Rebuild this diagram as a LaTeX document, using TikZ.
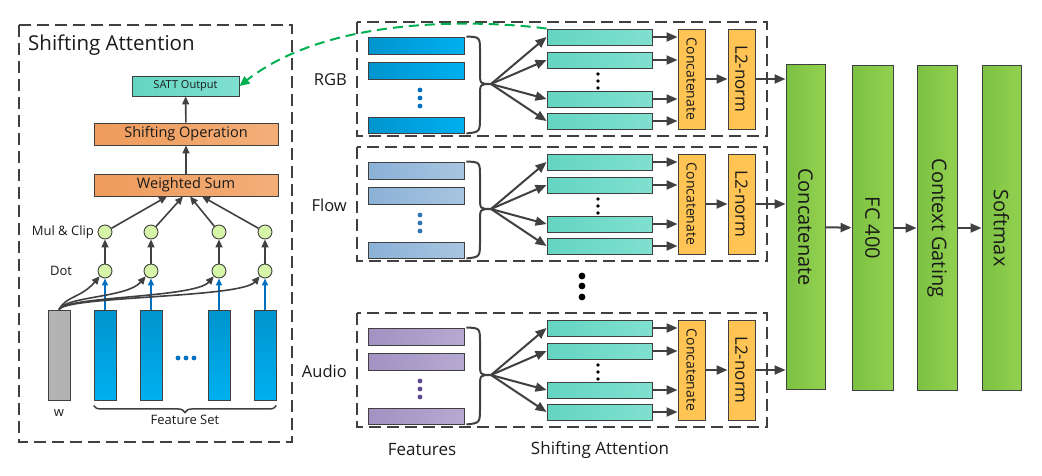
\documentclass[tikz,border=0pt]{standalone}
\usepackage{fontspec}
\setmainfont{Open Sans}
\usepackage{graphicx}
\usetikzlibrary{arrows.meta,decorations.pathreplacing}
\definecolor{edge}{HTML}{404040}
\definecolor{txt}{HTML}{1A1A1A}
\definecolor{rgbL}{HTML}{0094CE}
\definecolor{rgbR}{HTML}{00B0F0}
\definecolor{rgbD}{HTML}{0070C0}
\definecolor{flowL}{HTML}{8BB1D6}
\definecolor{flowR}{HTML}{A7C5E1}
\definecolor{flowD}{HTML}{2E75B6}
\definecolor{audL}{HTML}{A192C2}
\definecolor{audR}{HTML}{B6A9D1}
\definecolor{audD}{HTML}{5F4B8B}
\definecolor{attL}{HTML}{64D5C1}
\definecolor{attR}{HTML}{80E0D0}
\definecolor{opL}{HTML}{EE9B5B}
\definecolor{opR}{HTML}{F3AE78}
\definecolor{catC}{HTML}{FFC454}
\definecolor{gL}{HTML}{7CC142}
\definecolor{gR}{HTML}{93D150}
\definecolor{dotC}{HTML}{D5F5A8}
\definecolor{wC}{HTML}{B3B3B3}
\definecolor{link}{HTML}{00B050}

\begin{document}
\begin{tikzpicture}[x=1pt,y=-1pt,>={Triangle[length=11pt,width=9pt]}]
      \tikzstyle{every node}=[text=txt,inner sep=0pt]
      \tikzstyle{blk}=[rectangle,draw=edge,line width=0.9pt]
      \tikzstyle{circ}=[circle,draw=edge,line width=0.9pt,fill=dotC,minimum size=14pt]
      \tikzstyle{dashbox}=[draw=edge,line width=2.2pt,dash pattern=on 12pt off 6pt]
      \tikzstyle{arr}=[draw=edge,line width=2pt,->]
      \tikzstyle{small arr}=[draw=edge,line width=1.6pt,-{Triangle[length=8pt,width=7pt]}]
      \tikzstyle{blue arr}=[draw=rgbD,line width=1.5pt,-{Triangle[length=7pt,width=6pt]}]
      \tikzstyle{bigbox}=[blk,left color=gL,right color=gR,minimum width=40pt,minimum height=325pt,font=\fontsize{20}{24}\selectfont]
      \useasboundingbox (0,0) rectangle (1042,475);

      \draw[dashbox] (19,25) rectangle (292,442);
      \node[anchor=west,font=\fontsize{20.5}{24}\selectfont] (title) at (28,45) {Shifting Attention};
      \node[blk,left color=attL,right color=attR,minimum width=107pt,minimum height=20pt,font=\fontsize{11}{13}\selectfont] (satt) at (185.5,86) {SATT Output};
      \node[blk,left color=opL,right color=opR,minimum width=184pt,minimum height=22pt,font=\fontsize{14.5}{17}\selectfont] (shop) at (186,134) {Shifting Operation};
      \node[blk,left color=opL,right color=opR,minimum width=184pt,minimum height=22pt,font=\fontsize{14.5}{17}\selectfont] (ws) at (186,185) {Weighted Sum};
      \draw[small arr] (ws) -- (shop);
      \draw[small arr] (shop) -- (satt);
      \node[anchor=east,font=\fontsize{13}{15}\selectfont] (mullab) at (94,232) {Mul \& Clip};
      \node[font=\fontsize{13}{15}\selectfont] (dotlab) at (61,271) {Dot};
      \node[blk,fill=wC,minimum width=22pt,minimum height=90pt] (wvec) at (59,355) {};
      \node[font=\fontsize{13}{15}\selectfont] (wlab) at (59,413) {w};
      \foreach \i/\x/\o in {1/105/-19,2/151/-3,3/219/4,4/265/16}{
        \node[blk,top color=rgbL,bottom color=rgbR,minimum width=22pt,minimum height=90pt] (fs\i) at (\x,355) {};
        \node[circ] (d\i) at (\x,271) {};
        \node[circ] (m\i) at (\x,232) {};
        \draw[blue arr] (fs\i) -- (d\i);
        \draw[small arr] (d\i) -- (m\i);
        \draw[small arr] (m\i) -- ([xshift=\o pt]ws.south);
        \draw[small arr] (wvec.north) .. controls (66,296) and (\x-24,298) .. (d\i.south west);
      }
      \foreach \x in {178,186,194} \fill[rgbD] (\x,358) circle (2.4pt);
      \draw[edge,line width=1.5pt,decorate,decoration={brace,mirror,amplitude=7pt}] ([yshift=-5pt]fs1.south west) -- ([yshift=-5pt]fs4.south east) node[midway,below=9pt,font=\fontsize{13}{15}\selectfont] (fslab) {Feature Set};

      \foreach \ty/\lab/\nm/\cl/\cr/\cd in {22/RGB/rgb/rgbL/rgbR/rgbD,147/Flow/flow/flowL/flowR/flowD,313/Audio/audio/audL/audR/audD}{
        \draw[dashbox] (357,\ty) rectangle (767,\ty+114);
        \node[anchor=east,font=\fontsize{16.5}{20}\selectfont] (\nm-lab) at (347,\ty+58) {\lab};
        \node[blk,left color=\cl,right color=\cr,minimum width=96pt,minimum height=17pt] (\nm-f1) at (416,\ty+23.5) {};
        \node[blk,left color=\cl,right color=\cr,minimum width=96pt,minimum height=17pt] (\nm-f2) at (416,\ty+48.5) {};
        \node[blk,left color=\cl,right color=\cr,minimum width=96pt,minimum height=16pt] (\nm-f4) at (416,\ty+103) {};
        \foreach \d in {68,76,84} \fill[\cd] (420,\ty+\d) circle (2.4pt);
        \coordinate (\nm-tip) at (491,\ty+62);
        \draw[edge,line width=2pt] ([xshift=2pt]\nm-f1.north east) .. controls (480,\ty+15) .. (480,\ty+30) -- (480,\ty+50) .. controls (480,\ty+62) .. (\nm-tip) .. controls (480,\ty+62) .. (480,\ty+74) -- (480,\ty+94) .. controls (480,\ty+110) .. ([xshift=2pt]\nm-f4.south east);
        \node[blk,left color=attL,right color=attR,minimum width=105pt,minimum height=16pt] (\nm-a1) at (599.5,\ty+15) {};
        \node[blk,left color=attL,right color=attR,minimum width=105pt,minimum height=16pt] (\nm-a2) at (599.5,\ty+38) {};
        \node[blk,left color=attL,right color=attR,minimum width=105pt,minimum height=16pt] (\nm-a3) at (599.5,\ty+77) {};
        \node[blk,left color=attL,right color=attR,minimum width=105pt,minimum height=16pt] (\nm-a4) at (599.5,\ty+99) {};
        \foreach \d in {52,59,66} \fill[black] (598,\ty+\d) circle (1.8pt);
        \node[blk,fill=catC,minimum width=27pt,minimum height=100pt,font=\fontsize{14}{17}\selectfont] (\nm-cat) at (691.5,\ty+57) {\rotatebox{-90}{Concatenate}};
        \node[blk,fill=catC,minimum width=27pt,minimum height=100pt,font=\fontsize{17}{20}\selectfont] (\nm-l2) at (741.5,\ty+57) {\rotatebox{-90}{L2-norm}};
        \foreach \i in {1,2,3,4}{
          \draw[arr] (\nm-tip) -- (\nm-a\i.west);
          \draw[arr] (\nm-a\i.east) -- (\nm-cat.west |- \nm-a\i.east);
        }
        \draw[arr] (\nm-cat) -- (\nm-l2);
      }
      \foreach \d in {276,286,297} \fill[black] (582,\d) circle (3.4pt);
      \node[font=\fontsize{17}{20}\selectfont] (featlab) at (422,450) {Features};
      \node[font=\fontsize{17}{20}\selectfont] (attlab) at (600,450) {Shifting Attention};

      \node[bigbox,minimum width=39pt] (bigcat) at (805.5,227) {\rotatebox{-90}{Concatenate}};
      \node[bigbox,minimum width=41pt] (fc) at (872.5,228) {\rotatebox{-90}{FC 400}};
      \node[bigbox] (gate) at (937,228) {\rotatebox{-90}{Context Gating}};
      \node[bigbox,minimum width=39pt] (soft) at (1001.5,228) {\rotatebox{-90}{Softmax}};
      \foreach \nm in {rgb,flow,audio} \draw[arr] (\nm-l2) -- (bigcat.west |- \nm-l2.east);
      \draw[arr] (bigcat) -- (fc);
      \draw[arr] (fc) -- (gate);
      \draw[arr] (gate) -- (soft);

      \draw[link,line width=2pt,dash pattern=on 10pt off 6pt,-{Triangle[length=10pt,width=9pt]}] (rgb-a1.north west) .. controls (480,20) and (330,15) .. (satt.east);
    \end{tikzpicture}
\end{document}
